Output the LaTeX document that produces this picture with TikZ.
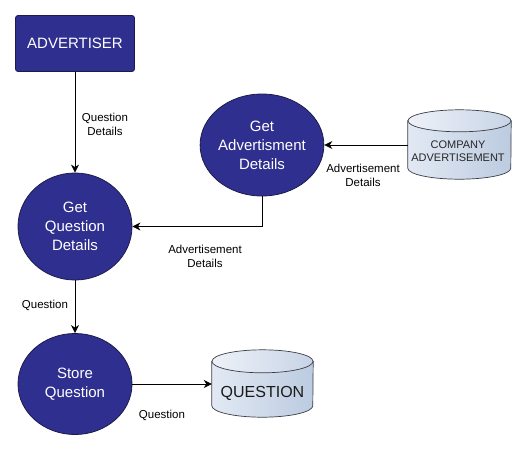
\documentclass[tikz,border=0pt]{standalone}
\usepackage{fontspec}
\setmainfont{Liberation Sans}
\usetikzlibrary{shapes.geometric,calc,arrows.meta}
\definecolor{procblue}{HTML}{2F2F8F}
\definecolor{procedge}{HTML}{1C1C4A}
\definecolor{cylA}{HTML}{E2E9F4}
\definecolor{cylB}{HTML}{BCCBE0}
\definecolor{cyledge}{HTML}{3C3C46}
\tikzset{
  proc/.style={ellipse, draw=procedge, fill=procblue, text=white, line width=0.8pt,
    font=\fontsize{15}{19}\selectfont, align=center, inner sep=0pt},
  extbox/.style={rectangle, rounded corners=2.5pt, draw=procedge, fill=procblue, text=white,
    line width=0.8pt, font=\fontsize{15}{18}\selectfont, inner sep=0pt},
  storebox/.style={rectangle, draw=none, inner sep=0pt, align=center},
  cylbody/.style={draw=cyledge, line width=0.7pt, left color=cylA, right color=cylB},
  cyltop/.style={draw=cyledge, line width=0.7pt, left color=cylA!60!white, right color=cylB!70!cylA},
  flow/.style={draw=black, line width=0.8pt, -{Stealth[length=8pt,width=8pt,inset=2.5pt]}},
  flowlabel/.style={font=\fontsize{11.5}{14}\selectfont, align=center, inner sep=0pt},
}
\begin{document}
\begin{tikzpicture}[x=1pt,y=-1pt]
\useasboundingbox (0,0) rectangle (524,450);
% nodes
\node[extbox, minimum width=119, minimum height=56] (adv) at (75,43.5) {ADVERTISER};
\node[proc, minimum width=114, minimum height=107] (gq) at (75,226.5) {Get\\Question\\Details};
\node[proc, minimum width=114, minimum height=102] (ga) at (262,145) {Get\\Advertisment\\Details};
\node[proc, minimum width=114, minimum height=101] (sq) at (75,384) {Store\\Question};
% cylinders
\node[storebox, minimum width=103, minimum height=69] (ca) at (459.5,144.5) {};
\node[storebox, minimum width=101, minimum height=67] (qs) at (262.5,383.5) {};
\path[cylbody] ($(ca.north west)+(0pt,-11pt)$) -- ($(ca.south west)+(0pt,11pt)$)
  arc[start angle=180, end angle=360, x radius=51.5pt, y radius=11pt]
  -- ($(ca.north east)+(0pt,-11pt)$) -- cycle;
\path[cyltop] ($(ca.north)+(0pt,-11pt)$) ellipse[x radius=51.5pt, y radius=11pt];
\path[cylbody] ($(qs.north west)+(0pt,-11.5pt)$) -- ($(qs.south west)+(0pt,11.5pt)$)
  arc[start angle=180, end angle=360, x radius=50.5pt, y radius=11.5pt]
  -- ($(qs.north east)+(0pt,-11.5pt)$) -- cycle;
\path[cyltop] ($(qs.north)+(0pt,-11.5pt)$) ellipse[x radius=50.5pt, y radius=11.5pt];
\node[font=\fontsize{11}{13}\selectfont, align=center, text=black!85] (catext) at (458,151) {COMPANY\\ADVERTISEMENT};
\node[font=\fontsize{16}{18}\selectfont, text=black!90] (qtext) at (262.5,393) {QUESTION};
% connectors
\draw[flow] (adv.south) -- (gq.north);
\draw[flow] (ca.west |- ga.east) -- (ga.east);
\coordinate (bend) at (ga.south |- gq.east);
\draw[flow] (ga.south) -- (bend) -- (gq.east);
\draw[flow] (gq.south) -- (sq.north);
\draw[flow] (sq.east) -- (qs.west |- sq.east);
% labels
\node[flowlabel] (l1) at (105,124) {Question\\Details};
\node[flowlabel] (l2) at (363,175.5) {Advertisement\\Details};
\node[flowlabel] (l3) at (205,256) {Advertisement\\Details};
\node[flowlabel] (l4) at (45,305) {Question};
\node[flowlabel] (l5) at (162,415) {Question};
\end{tikzpicture}
\end{document}
